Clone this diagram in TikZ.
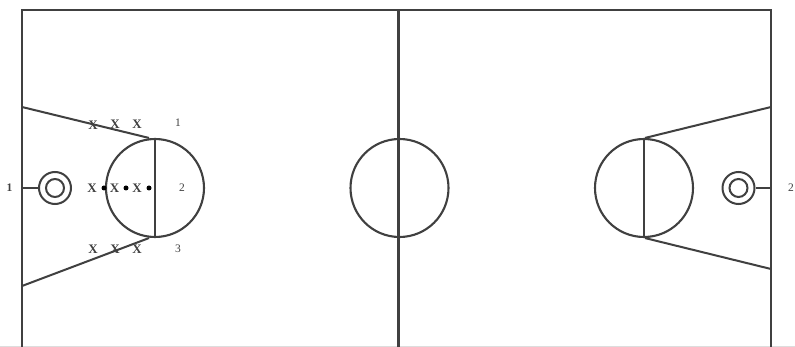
\documentclass[tikz,border=0pt]{standalone}
\usepackage{fontspec}
\setmainfont{Liberation Serif}
\definecolor{ink}{HTML}{404040}
\definecolor{faint}{HTML}{DDDDDD}
\tikzset{
  court/.style={draw=ink,line width=2.5pt},
  top court/.style={draw=ink,line width=2.1pt},
  thin court/.style={draw=ink,line width=2pt},
  lbl/.style={inner sep=0pt,font=\fontsize{11.5}{11.5}\selectfont,text=ink},
  xmark/.style={inner sep=0pt,font=\bfseries\fontsize{13}{13}\selectfont,text=ink},
  ringbig/.style={circle,thin court,minimum size=32pt,inner sep=0pt},
  ringsmall/.style={circle,thin court,minimum size=18pt,inner sep=0pt},
  arcnode/.style={circle,draw=ink,line width=2.1pt,minimum size=98pt,inner sep=0pt},
  ball/.style={circle,fill=black,minimum size=5pt,inner sep=0pt}
}
\begin{document}
\begin{tikzpicture}[x=1pt,y=-1pt]
\useasboundingbox (0,0) rectangle (795,347);
\fill[white] (0,0) rectangle (795,347);
% court outline
\coordinate (tl) at (22,10);
\coordinate (tr) at (771,10);
\coordinate (bl) at (22,347);
\coordinate (br) at (771,347);
\coordinate (mt) at (398.5,10);
\coordinate (mb) at (398.5,347);
\draw[faint,line width=1pt] (0,346.5) -- (795,346.5);
\draw[court] (bl) -- (tl);
\draw[court] (tr) -- (br);
\draw[top court] ([xshift=-1.2pt]tl) -- ([xshift=1.2pt]tr);
\draw[court] (mt) -- (mb);
% circles
\node[arcnode] (cl) at (155,188) {};
\node[arcnode] (cc) at (399.5,188) {};
\node[arcnode] (cr) at (644,188) {};
% free-throw lines
\draw[thin court] (cl.north) -- (cl.south);
\draw[thin court] (cr.north) -- (cr.south);
% lanes
\coordinate (l1) at (22,107);
\coordinate (l2) at (22,286);
\coordinate (r1) at (771,107);
\coordinate (r2) at (771,269);
\draw[thin court] (l1) -- ([xshift=-6pt]cl.north);
\draw[thin court] (l2) -- ([xshift=-6pt]cl.south);
\draw[thin court] (r1) -- ([xshift=1pt]cr.north);
\draw[thin court] (r2) -- ([xshift=1pt]cr.south);
% hoops
\node[ringbig] (hl) at (55,188) {};
\node[ringsmall] (hli) at (55,188) {};
\node[ringbig] (hr) at (738.5,188) {};
\node[ringsmall] (hri) at (738.5,188) {};
\coordinate (bbl) at (22,188);
\coordinate (bbr) at (771,188);
\draw[thin court] (bbl) -- (hl);
\draw[thin court] (bbr) -- (hr);
% labels
\node[lbl,font=\bfseries\fontsize{11.5}{11.5}\selectfont] (a) at (9.5,188) {1};
\node[lbl] (b) at (791,188) {2};
\node[lbl] (n1) at (178,123) {1};
\node[lbl] (n2) at (182,188) {2};
\node[lbl] (n3) at (178,249) {3};
% players
\node[xmark] (x1) at (93,125) {X};
\node[xmark] (x2) at (115,124) {X};
\node[xmark] (x3) at (137,124) {X};
\node[xmark] (x4) at (92,188) {X};
\node[xmark] (x5) at (114.5,188) {X};
\node[xmark] (x6) at (137,188) {X};
\node[xmark] (x7) at (93,249) {X};
\node[xmark] (x8) at (115,249) {X};
\node[xmark] (x9) at (137,249) {X};
\node[ball] (d1) at (104,188) {};
\node[ball] (d2) at (126,188) {};
\node[ball] (d3) at (149,188) {};
\end{tikzpicture}
\end{document}
